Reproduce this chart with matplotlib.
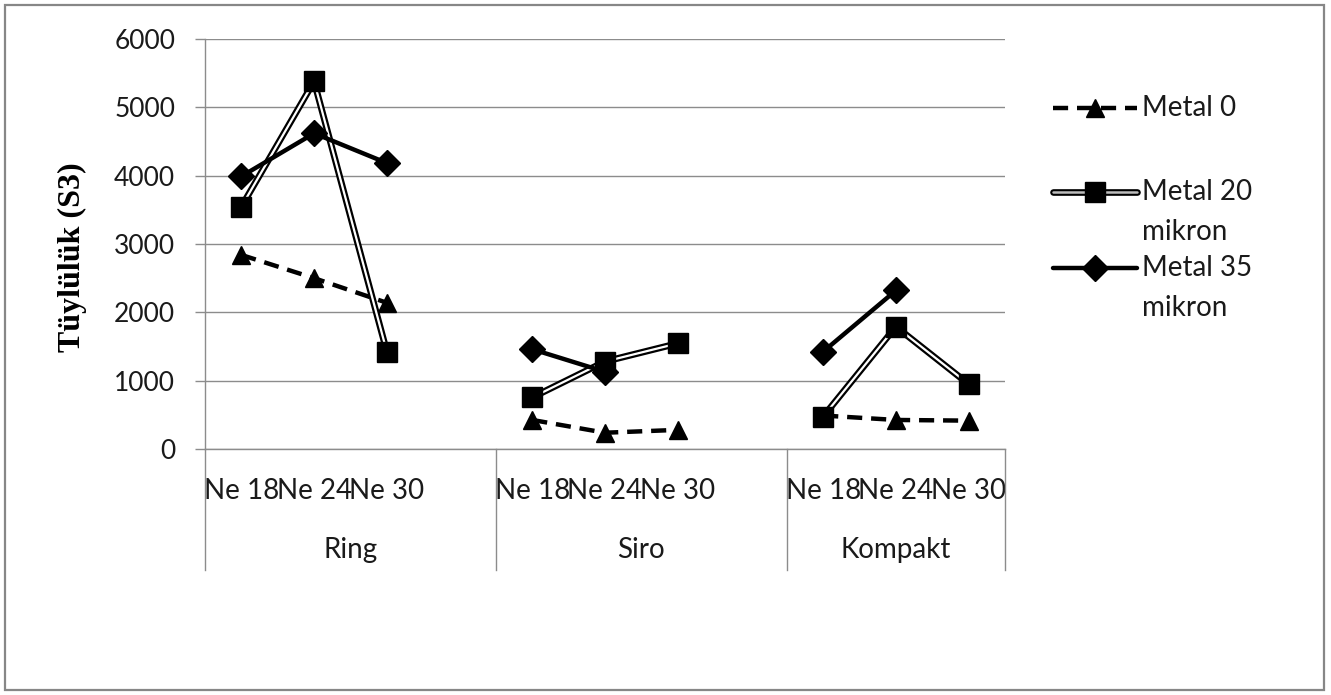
import numpy as np
import matplotlib
matplotlib.use("Agg")
import matplotlib.pyplot as plt
from matplotlib.lines import Line2D
from matplotlib.patches import Rectangle
import matplotlib.transforms as mtransforms

# ---------------- data ----------------
groups = ["Ring", "Siro", "Kompakt"]
counts = ["Ne 18", "Ne 24", "Ne 30"]
series_names = ["Metal 0", "Metal 20\nmikron", "Metal 35\nmikron"]
metal_0 = [2840, 2500, 2140, 425, 238, 280, 490, 425, 415]
metal_20 = [3545, 5380, 1425, 755, 1280, 1545, 475, 1790, 950]
metal_35 = [3990, 4620, 4185, 1460, 1130, np.nan, 1425, 2320, np.nan]
y_ticks = [0, 1000, 2000, 3000, 4000, 5000, 6000]
y_label = "Tüylülük (S3)"

# ---------------- layout ----------------
W, H = 1331, 695
plt.rcParams['font.family'] = ['Lato', 'DejaVu Sans']
fig = plt.figure(figsize=(W / 100, H / 100), dpi=100)
fig.patch.set_facecolor('white')
ax = fig.add_axes([205 / W, 1 - 449 / H, 800 / W, 410 / H])

# Excel-style multi-level category axis: each group has 3 used slots + 1 empty slot
slots_per_group = len(counts) + 1
n_slots = len(groups) * slots_per_group - 1
x_all = np.arange(n_slots)


def to_slots(vals):
    out = np.full(n_slots, np.nan)
    k = 0
    for g in range(len(groups)):
        for i in range(len(counts)):
            out[g * slots_per_group + i] = vals[k]
            k += 1
    return out


y0 = to_slots(metal_0)
y20 = to_slots(metal_20)
y35 = to_slots(metal_35)

DASH = (0, (3.4, 2.0))
# Metal 0 : dashed with triangles
ax.plot(x_all, y0, color='black', lw=3.2, ls=DASH, zorder=3)
ax.plot(x_all, y0, ls='none', marker='^', ms=13, color='black', zorder=4)
# Metal 20 : double line with squares
ax.plot(x_all, y20, color='black', lw=4.8, solid_joinstyle='miter', zorder=5)
ax.plot(x_all, y20, color='white', lw=1.6, solid_joinstyle='miter', zorder=6)
ax.plot(x_all, y20, ls='none', marker='s', ms=15, color='black', zorder=7)
# Metal 35 : thick solid with diamonds
ax.plot(x_all, y35, color='black', lw=3.2, zorder=8)
ax.plot(x_all, y35, ls='none', marker='D', ms=13, color='black', zorder=9)

ax.set_xlim(-0.5, n_slots - 0.5)
ax.set_ylim(0, 6000)
ax.set_yticks(y_ticks)
ax.set_yticklabels([str(v) for v in y_ticks])
ax.yaxis.grid(True, color='#8c8c8c', lw=1.0)
ax.set_axisbelow(True)

gray = '#8c8c8c'
txt = '#1a1a1a'
for s in ['top', 'right']:
    ax.spines[s].set_visible(False)
ax.spines['left'].set_color(gray)
ax.spines['bottom'].set_color(gray)
ax.spines['left'].set_linewidth(1.0)
ax.spines['bottom'].set_linewidth(1.0)
ax.tick_params(axis='y', direction='out', length=7.5, width=1.0, color=gray,
               labelsize=19, labelcolor=txt, pad=14)

# category tick labels (inner level)
tick_pos = [g * slots_per_group + i for g in range(len(groups)) for i in range(len(counts))]
ax.set_xticks(tick_pos)
ax.set_xticklabels(counts * len(groups))
ax.tick_params(axis='x', length=0, labelsize=20, labelcolor=txt, pad=21)

# group labels (outer level) and separators
trans = mtransforms.blended_transform_factory(ax.transData, ax.transAxes)
sep_bottom = -(570 - 449) / 410
bounds = [-0.5] + [(g + 1) * slots_per_group - 0.5 for g in range(len(groups) - 1)] + [n_slots - 0.5]
for b in bounds:
    ax.plot([b, b], [0, sep_bottom], transform=trans, color=gray, lw=1.0, clip_on=False)
for g, name in enumerate(groups):
    cx = (bounds[g] + bounds[g + 1]) / 2
    ax.text(cx, -(550 - 449) / 410, name, transform=trans, ha='center', va='center',
            fontsize=20, color=txt)

# y label
ax.set_ylabel(y_label, fontfamily=['Liberation Serif', 'DejaVu Serif'], fontweight='bold',
              fontsize=23, va='center')
ax.yaxis.set_label_coords((72 - 205) / 800, (449 - 257) / 410)

# ---------------- legend (Excel style: handle aligned with first text line) ----------------
def fx(px):
    return px / W


def fy(py):
    return 1 - py / H


leg_y = [108, 192, 268]
lx0, lx1, lmid = 1053, 1137, 1095
# Metal 0
fig.add_artist(Line2D([fx(lx0), fx(lx1)], [fy(leg_y[0])] * 2, transform=fig.transFigure,
                      color='black', lw=3.2, ls=DASH))
fig.add_artist(Line2D([fx(lmid)], [fy(leg_y[0])], transform=fig.transFigure, ls='none',
                      marker='^', ms=13, color='black'))
# Metal 20
fig.add_artist(Line2D([fx(lx0), fx(lx1)], [fy(leg_y[1])] * 2, transform=fig.transFigure,
                      color='black', lw=4.8, solid_capstyle='round'))
fig.add_artist(Line2D([fx(lx0), fx(lx1)], [fy(leg_y[1])] * 2, transform=fig.transFigure,
                      color='#bdbdbd', lw=1.8, solid_capstyle='round'))
fig.add_artist(Line2D([fx(lmid)], [fy(leg_y[1])], transform=fig.transFigure, ls='none',
                      marker='s', ms=15, color='black'))
# Metal 35
fig.add_artist(Line2D([fx(lx0), fx(lx1)], [fy(leg_y[2])] * 2, transform=fig.transFigure,
                      color='black', lw=3.2, solid_capstyle='round'))
fig.add_artist(Line2D([fx(lmid)], [fy(leg_y[2])], transform=fig.transFigure, ls='none',
                      marker='D', ms=13, color='black'))
line_gap = 40
for yy, name in zip(leg_y, series_names):
    lines = name.split("\n")
    for j, ln in enumerate(lines):
        fig.text(fx(1142), fy(yy + 8 + j * line_gap), ln, ha='left', va='baseline',
                 fontsize=20, color=txt)

# outer chart border
fig.add_artist(Rectangle((fx(5), fy(690)), fx(1324) - fx(5), fy(5) - fy(690),
                         transform=fig.transFigure, fill=False, edgecolor='#878787', lw=1.6))

fig.savefig('out.png', dpi=100, facecolor='white')
